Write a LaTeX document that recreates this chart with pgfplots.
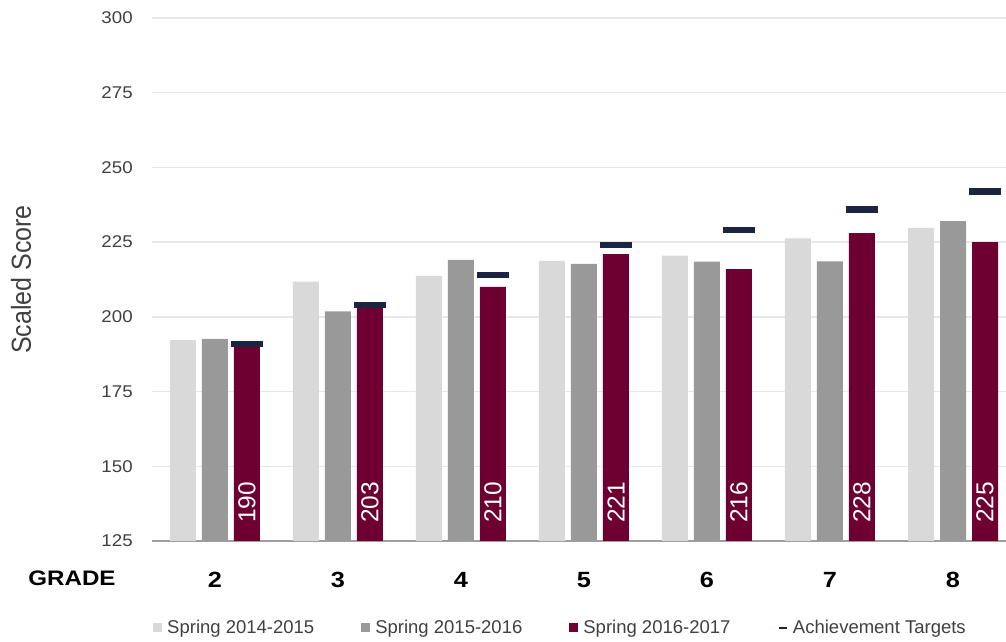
\documentclass[border=0pt]{standalone}
\usepackage{pgfplots}
\pgfplotsset{compat=1.18}
\usepackage{pgfplotstable}
\usepackage{graphicx}
\usepackage{fontspec}
\setmainfont{Liberation Sans}

\definecolor{lightbar}{HTML}{D9D9D9}
\definecolor{midbar}{HTML}{999999}
\definecolor{maroonbar}{HTML}{6D0030}
\definecolor{targetc}{HTML}{1B2440}
\definecolor{txt}{HTML}{404040}

% grade, spring 14-15, spring 15-16, spring 16-17, achievement target
\pgfplotstableread{
grade a     b     c   t
2     192.2 192.6 190 191
3     211.8 201.8 203 204
4     213.7 219.1 210 214
5     218.7 217.7 221 224
6     220.5 218.5 216 229
7     226.3 218.6 228 236
8     229.8 232.0 225 242
}\scores

\begin{document}
\begin{tikzpicture}
\useasboundingbox (0,0) rectangle (1006bp,642bp);
\begin{axis}[
	at={(152bp,101bp)}, anchor=south west,
	scale only axis,
	width=854bp, height=523bp,
	xmin=1.488, xmax=8.431,
	ymin=125, ymax=300,
	ytick={125,150,...,300},
	xtick={2,...,8},
	axis x line=bottom,
	axis y line=left,
	y axis line style={draw=none},
	x axis line style={draw=gray!75, line width=2bp, -},
	tick style={draw=none},
	ymajorgrids=true,
	major grid style={draw=gray!18, line width=1.3bp},
	yticklabel={\scalebox{1.1}[1]{\pgfmathprintnumber[assume math mode=true]{\tick}}},
	yticklabel style={font=\fontsize{17bp}{20bp}\selectfont, text=txt,
		anchor=east, inner sep=0pt, xshift=-17bp},
	xticklabel={\scalebox{1.15}[1]{\pgfmathprintnumber[assume math mode=true]{\tick}}},
	xticklabel style={font=\bfseries\fontsize{22bp}{26bp}\selectfont, text=black,
		anchor=north, inner sep=0pt, yshift=-29bp},
	ylabel={\scalebox{1}[1.1]{Scaled Score}},
	ylabel style={at={(axis description cs:-0.1534,0.5)}, anchor=center,
		font=\fontsize{25bp}{30bp}\selectfont, text=txt},
	legend columns=4,
	legend cell align=left,
	legend style={draw=none, fill=none, inner sep=0pt,
		at={(axis description cs:0.0012,-0.1663)}, anchor=west,
		font=\fontsize{18.5bp}{22bp}\selectfont, text=txt,
		nodes={inner sep=0pt},
		/tikz/every odd column/.append style={column sep=5bp},
		/tikz/every even column/.append style={column sep=47bp}},
]
\addplot[ybar, bar width=26bp, bar shift=-32bp, fill=lightbar, draw=none,
	legend image code/.code={\fill[lightbar] (0bp,-4.5bp) rectangle (9bp,4.5bp);}]
	table[x=grade, y=a]{\scores};
\addlegendentry{Spring 2014-2015}
\addplot[ybar, bar width=26bp, bar shift=0bp, fill=midbar, draw=none,
	legend image code/.code={\fill[midbar] (0bp,-4.5bp) rectangle (9bp,4.5bp);}]
	table[x=grade, y=b]{\scores};
\addlegendentry{Spring 2015-2016}
\addplot[ybar, bar width=26bp, bar shift=32bp, fill=maroonbar, draw=none,
	legend image code/.code={\fill[maroonbar] (0bp,-4.5bp) rectangle (9bp,4.5bp);}]
	table[x=grade, y=c]{\scores};
\addlegendentry{Spring 2016-2017}
\addplot[only marks, mark=-, mark size=16bp,
	mark options={draw=targetc, line width=6.5bp, xshift=32bp},
	legend image code/.code={\draw[targetc, line width=2.5bp] (0bp,0bp) -- (8bp,0bp);}]
	table[x=grade, y=t]{\scores};
\addlegendentry{Achievement Targets}
% value labels at the foot of the 2016-2017 bars
\addplot[ybar, bar width=26bp, bar shift=32bp, draw=none, fill=none, forget plot,
	point meta=explicit symbolic, nodes near coords,
	every node near coord/.append style={anchor=west, xshift=32bp, rotate=90,
		inner xsep=18bp, inner ysep=0pt, text=white,
		font=\fontsize{24.5bp}{28bp}\selectfont}]
	table[x=grade, y expr=125, meta=c]{\scores};
\end{axis}
\node[font=\bfseries\fontsize{21bp}{25bp}\selectfont, anchor=center]
	at (72bp,64bp) {\scalebox{1.15}[1]{GRADE}};
\end{tikzpicture}
\end{document}
